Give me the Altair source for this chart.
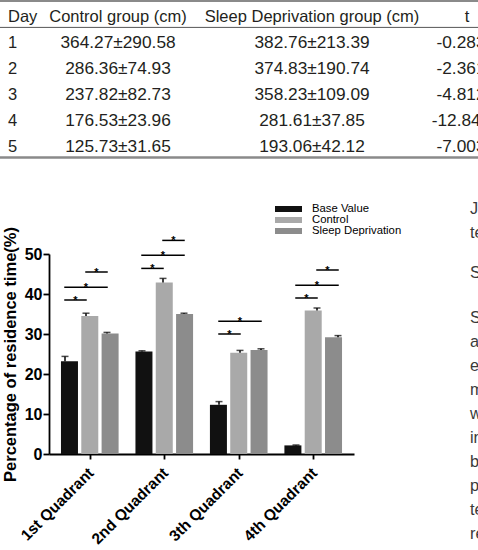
import json

import altair as alt
import pandas as pd

# ---------------- table: swimming distance by day ----------------
table_header = ["Day", "Control group (cm)", "Sleep Deprivation group (cm)", "t"]
days = ["1", "2", "3", "4", "5"]
control_dist = ["364.27±290.58", "286.36±74.93", "237.82±82.73", "176.53±23.96", "125.73±31.65"]
sleep_dist = ["382.76±213.39", "374.83±190.74", "358.23±109.09", "281.61±37.85", "193.06±42.12"]
t_values = ["-0.283", "-2.361", "-4.812", "-12.846", "-7.003"]

# ---------------- bar chart: residence time per quadrant ----------------
quadrants = ["1st Quadrant", "2nd Quadrant", "3th Quadrant", "4th Quadrant"]
series = ["Base Value", "Control", "Sleep Deprivation"]
base_mean = [23.2, 25.6, 12.3, 2.15]
base_sem = [1.2, 0.2, 0.8, 0.1]
control_mean = [34.5, 42.9, 25.3, 35.9]
control_sem = [0.7, 1.0, 0.6, 0.6]
sleep_mean = [30.1, 35.0, 26.0, 29.2]
sleep_sem = [0.3, 0.2, 0.3, 0.4]

# significance brackets: quadrant, first series, second series, bracket height (%)
sig_quadrant = [1, 1, 1, 2, 2, 2, 3, 3, 4, 4, 4]
sig_from = [0, 0, 1, 0, 0, 1, 0, 0, 0, 0, 1]
sig_to = [1, 2, 2, 1, 2, 2, 1, 2, 1, 2, 2]
sig_height = [38.5, 41.7, 45.5, 46.4, 49.7, 53.4, 30.0, 33.2, 39.0, 42.2, 46.0]

# first words of the neighbouring text column
body_words = ["Jia", "tested", "Sleep", "Sleep", "and", "each", "mice", "were", "in", "both",
              "platform", "test", "results"]

# ---------------- layout ----------------
W, H = 305, 200
PAD = {"left": 49, "top": 254, "right": 124, "bottom": 96}
FIG_FONT = "Liberation Sans"
TAB_FONT = "Liberation Sans"
INK = "#231f20"
bar_colors = ["#111111", "#a9a9a9", "#8c8c8c"]

GROUP_HALF = 37 / 77          # half a quadrant slot, in quadrant units
SERIES_STEP = 21 / 77         # distance between neighbouring bars
x_domain = [1 - GROUP_HALF, 4 + GROUP_HALF]

means = [base_mean, control_mean, sleep_mean]
sems = [base_sem, control_sem, sleep_sem]


def bar_center(q, s):
    return q + (s - 1) * SERIES_STEP


bar_rows = []
for s_i, s in enumerate(series):
    for q_i, q in enumerate(quadrants):
        m = means[s_i][q_i]
        bar_rows.append({
            "quadrant": q,
            "series": s,
            "pos": bar_center(q_i + 1, s_i),
            "mean": m,
            "upper": m + sems[s_i][q_i],
        })
bar_df = pd.DataFrame(bar_rows)

sig_df = pd.DataFrame({
    "x1": [bar_center(q, a) for q, a in zip(sig_quadrant, sig_from)],
    "x2": [bar_center(q, b) for q, b in zip(sig_quadrant, sig_to)],
    "h": sig_height,
})
sig_df["mid"] = (sig_df["x1"] + sig_df["x2"]) / 2
sig_df["star"] = "*"

NOAX = None


def bx():
    return alt.Scale(domain=x_domain, nice=False, zero=False)


def by():
    return alt.Scale(domain=[0, 50], nice=False)


label_expr = json.dumps([""] + quadrants) + "[datum.value]"

x_axis = alt.Axis(
    values=[1, 2, 3, 4], labelExpr=label_expr, title=None, orient="bottom", grid=False,
    domainColor="black", domainWidth=1.8, tickColor="black", tickWidth=1.8, tickSize=5,
    labelAngle=315, labelAlign="right", labelBaseline="top", labelPadding=6, labelOffset=-4,
    labelFont=FIG_FONT, labelFontWeight="bold", labelFontSize=15.5, labelColor="black",
    labelFlush=False, labelOverlap=False, labelBound=False,
)
y_axis = alt.Axis(
    values=[0, 10, 20, 30, 40, 50], title="Percentage of residence time(%)", orient="left",
    grid=False, domainColor="black", domainWidth=1.8, tickColor="black", tickWidth=1.8,
    tickSize=6, labelFont=FIG_FONT, labelFontWeight="bold", labelFontSize=16,
    labelColor="black", labelPadding=1, labelFlush=False,
    titleFont=FIG_FONT, titleFontWeight="bold", titleFontSize=16.5, titleColor="black",
    titlePadding=6,
)

legend = alt.Legend(
    orient="none", legendX=226, legendY=-50, title=None, padding=0,
    symbolType="M-1,-0.22H1V0.22H-1Z", symbolSize=729, symbolStrokeWidth=0,
    symbolOpacity=1, labelFont=FIG_FONT, labelFontSize=11.3, labelColor="black",
    labelOffset=10, clipHeight=10, rowPadding=-2,
)

bars = alt.Chart(bar_df).mark_bar(size=17).encode(
    x=alt.X("pos:Q", scale=bx(), axis=x_axis),
    y=alt.Y("mean:Q", scale=by(), axis=y_axis),
    color=alt.Color("series:N", scale=alt.Scale(domain=series, range=bar_colors), legend=legend),
)
stems = alt.Chart(bar_df).mark_rule(color="black", strokeWidth=1.5).encode(
    x=alt.X("pos:Q", scale=bx(), axis=NOAX),
    y=alt.Y("mean:Q", scale=by(), axis=NOAX),
    y2="upper:Q",
)
caps = alt.Chart(bar_df).mark_tick(color="black", orient="horizontal", size=7, thickness=1.5).encode(
    x=alt.X("pos:Q", scale=bx(), axis=NOAX),
    y=alt.Y("upper:Q", scale=by(), axis=NOAX),
)
brackets = alt.Chart(sig_df).mark_rule(color="black", strokeWidth=1.5, strokeCap="square").encode(
    x=alt.X("x1:Q", scale=bx(), axis=NOAX),
    x2="x2:Q",
    y=alt.Y("h:Q", scale=by(), axis=NOAX),
)
stars = alt.Chart(sig_df).mark_text(
    font=FIG_FONT, fontWeight="bold", fontSize=11, color="black", baseline="alphabetic", dy=3.5
).encode(
    x=alt.X("mid:Q", scale=bx(), axis=NOAX),
    y=alt.Y("h:Q", scale=by(), axis=NOAX),
    text="star:N",
)

# ---------------- table layers ----------------
cells = []
for c, h in enumerate(table_header):
    cells.append({"col": c, "row": 0, "text": h})
for r in range(5):
    for c, v in enumerate([days[r], control_dist[r], sleep_dist[r], t_values[r]]):
        cells.append({"col": c, "row": r + 1, "text": v})
cell_df = pd.DataFrame(cells)


def tx():
    return alt.Scale(domain=[0, 1, 2, 3], range=[-41, 69, 263, 418], nice=False, zero=False)


def ty():
    return alt.Scale(domain=[0, 5], range=[-237, -107], nice=False, zero=False)


def cell_layer(filter_expr, align, size, dx=0):
    return alt.Chart(cell_df).transform_filter(filter_expr).mark_text(
        font=TAB_FONT, fontSize=size, color=INK, align=align, baseline="middle", dx=dx
    ).encode(
        x=alt.X("col:Q", scale=tx(), axis=NOAX),
        y=alt.Y("row:Q", scale=ty(), axis=NOAX),
        text="text:N",
    )


def table_rule(at, width, color):
    return alt.Chart(alt.Data(values=[{}])).mark_rule(strokeWidth=width, color=color).encode(
        y=alt.YDatum(at, scale=ty(), axis=NOAX),
        x=alt.value(-PAD["left"]),
        x2=alt.value(W + PAD["right"]),
    )


body_df = pd.DataFrame({"line": list(range(len(body_words))), "word": body_words})
body = alt.Chart(body_df).mark_text(
    font=TAB_FONT, fontSize=16.3, color="#3a3a3a", align="left", baseline="middle"
).encode(
    x=alt.value(421),
    y=alt.Y("line:Q", scale=alt.Scale(domain=[0, 1, 2, 3, 12], range=[-45, -21, 19, 64, 280],
                                      nice=False, zero=False), axis=NOAX),
    text="word:N",
)

chart = alt.layer(
    bars, stems, caps, brackets, stars,
    cell_layer("datum.col == 0", "left", 16.5),
    cell_layer("(datum.col == 1 || datum.col == 2) && datum.row == 0", "center", 16.5),
    cell_layer("datum.col == 3 && datum.row == 0", "center", 16.5),
    cell_layer("(datum.col == 1 || datum.col == 2) && datum.row > 0", "center", 17.3),
    cell_layer("datum.col == 3 && datum.row > 0", "center", 17.3, dx=-6),
    table_rule(-0.62, 2, "#8a8a8a"),
    table_rule(0.4, 1, "#555555"),
    table_rule(5.4, 2.5, "#8a8a8a"),
    body,
).resolve_scale(
    x="independent", y="independent"
).properties(
    width=W, height=H, padding=PAD, autosize=alt.AutoSizeParams(type="none"),
    background="white",
).configure_view(stroke=None)

chart.save("out.html", embed_options={"renderer": "svg", "actions": False})
